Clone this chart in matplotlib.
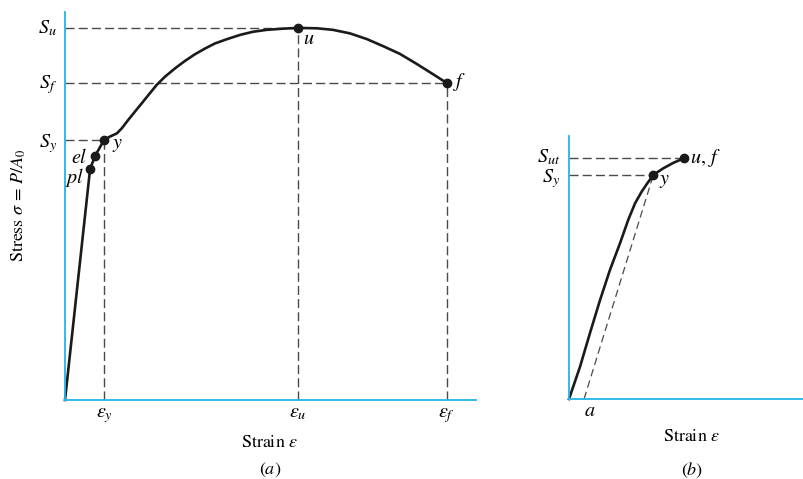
import matplotlib.pyplot as plt

plt.rcParams['font.family'] = 'STIXGeneral'
plt.rcParams['mathtext.fontset'] = 'stix'

# (a) ductile material: strain / stress in normalised units
duct_strain = [0.0, 0.061, 0.073, 0.095, 0.1095, 0.126, 0.138, 0.154, 0.170, 0.187,
               0.203, 0.223, 0.243, 0.268, 0.292, 0.316, 0.341, 0.365, 0.394,
               0.426, 0.457, 0.491, 0.530, 0.567, 0.613, 0.652, 0.693, 0.735,
               0.774, 0.815, 0.856, 0.895, 0.929]
duct_stress = [0.0, 0.595, 0.629, 0.670, 0.679, 0.687, 0.700, 0.722, 0.743, 0.765,
               0.786, 0.812, 0.833, 0.855, 0.874, 0.891, 0.906, 0.919, 0.930,
               0.941, 0.949, 0.954, 0.957, 0.959, 0.958, 0.954, 0.945, 0.930,
               0.912, 0.892, 0.866, 0.840, 0.817]
# key points: pl, el, y, u, f
duct_pts = {'pl': (0.061, 0.595), 'el': (0.073, 0.629), 'y': (0.095, 0.670),
            'u': (0.567, 0.959), 'f': (0.929, 0.817)}

# (b) brittle material
brit_strain = [0.0, 0.047, 0.089, 0.132, 0.174, 0.217, 0.252, 0.281, 0.309, 0.333,
               0.359, 0.401, 0.444, 0.489]
brit_stress = [0.0, 0.123, 0.250, 0.376, 0.490, 0.592, 0.681, 0.744, 0.788, 0.820,
               0.852, 0.877, 0.898, 0.915]
brit_pts = {'y': (0.359, 0.852), 'uf': (0.489, 0.915)}
offset_a = 0.064

AXIS = '#22b4e6'
CURVE = '#1a1a1a'
DASH = '#4a4a4a'
FS = 13
FS_SYM = 14.5

fig = plt.figure(figsize=(8.04, 4.79), dpi=100)
W, H = 804, 479


def make_axes(x0, x1, y_top, y_bot):
    ax = fig.add_axes([x0 / W, 1 - y_bot / H, (x1 - x0) / W, (y_bot - y_top) / H])
    ax.set_xlim(0, 1)
    ax.set_ylim(0, 1)
    ax.set_xticks([])
    ax.set_yticks([])
    ax.patch.set_alpha(0)
    for s in ('top', 'right'):
        ax.spines[s].set_visible(False)
    for s in ('left', 'bottom'):
        ax.spines[s].set_color(AXIS)
        ax.spines[s].set_linewidth(1.3)
    return ax


def dashed(ax, xs, ys, **kw):
    ax.plot(xs, ys, color=DASH, lw=1.0, dashes=(6.5, 3), clip_on=False, **kw)


def label(ax, text, xy, dx, dy, ha='left', va='center'):
    ax.annotate(text, xy=xy, xytext=(dx, dy), textcoords='offset points',
                ha=ha, va=va, fontsize=FS_SYM, annotation_clip=False)


# ---- panel (a)
axa = make_axes(65, 476, 12, 400)
yx, yy = duct_pts['y']
ux, uy = duct_pts['u']
fx, fy = duct_pts['f']
dashed(axa, [0, yx], [yy, yy])
dashed(axa, [0, ux], [uy, uy])
dashed(axa, [0, fx], [fy, fy])
dashed(axa, [yx, yx], [0, yy])
dashed(axa, [ux, ux], [0, uy])
dashed(axa, [fx, fx], [0, fy])
axa.plot(duct_strain, duct_stress, color=CURVE, lw=1.9, clip_on=False,
         solid_joinstyle='round')
px, py = zip(*duct_pts.values())
axa.plot(px, py, 'o', color=CURVE, ms=6, clip_on=False)

label(axa, r'$S_u$', (0, uy), -6, -4, ha='right', va='baseline')
label(axa, r'$S_f$', (0, fy), -6, -4, ha='right', va='baseline')
label(axa, r'$S_y$', (0, yy), -6, -5, ha='right', va='baseline')
label(axa, r'$\varepsilon_y$', (yx, 0), 0, -12.5, ha='center', va='baseline')
label(axa, r'$\varepsilon_u$', (ux, 0), 0, -12.5, ha='center', va='baseline')
label(axa, r'$\varepsilon_f$', (fx, 0), 0, -12.5, ha='center', va='baseline')
label(axa, r'$pl$', duct_pts['pl'], -4.5, -6, ha='right')
label(axa, r'$el$', duct_pts['el'], -5.5, -1, ha='right')
label(axa, r'$y$', duct_pts['y'], 5.5, -4)
label(axa, r'$u$', duct_pts['u'], 3.5, -8)
label(axa, r'$f$', duct_pts['f'], 4.5, 1)

# ---- panel (b)
axb = make_axes(569, 804, 136, 399)
byx, byy = brit_pts['y']
bux, buy = brit_pts['uf']
dashed(axb, [0, bux], [buy, buy])
dashed(axb, [0, byx], [byy, byy])
axb.plot([offset_a, byx], [0, byy], color=DASH, lw=0.9, dashes=(6, 3.5),
         clip_on=False)
axb.plot(brit_strain, brit_stress, color=CURVE, lw=1.9, clip_on=False,
         solid_joinstyle='round')
axb.plot([byx, bux], [byy, buy], 'o', color=CURVE, ms=6, clip_on=False)

label(axb, r'$S_{ut}$', (0, buy), -6.5, -3, ha='right', va='baseline')
label(axb, r'$S_y$', (0, byy), -6.5, -5, ha='right', va='baseline')
label(axb, r'$u,\,f$', (bux, buy), 4.5, 0)
label(axb, r'$y$', (byx, byy), 4, -5)
label(axb, r'$a$', (offset_a, 0), 0, -9)

# axis titles and panel captions
fig.text(19 / W, 1 - 205 / H, r'Stress $\sigma\,=\,P/A_0$', rotation=90,
         ha='center', va='center', fontsize=FS)
fig.text(270 / W, 1 - 443 / H, r'Strain $\varepsilon$', ha='center', va='center', fontsize=FS)
fig.text(270 / W, 1 - 470 / H, r'$(a)$', ha='center', va='center', fontsize=FS)
fig.text(692 / W, 1 - 437 / H, r'Strain $\varepsilon$', ha='center', va='center', fontsize=FS)
fig.text(692 / W, 1 - 470 / H, r'$(b)$', ha='center', va='center', fontsize=FS)

fig.savefig('out.png', dpi=100)
